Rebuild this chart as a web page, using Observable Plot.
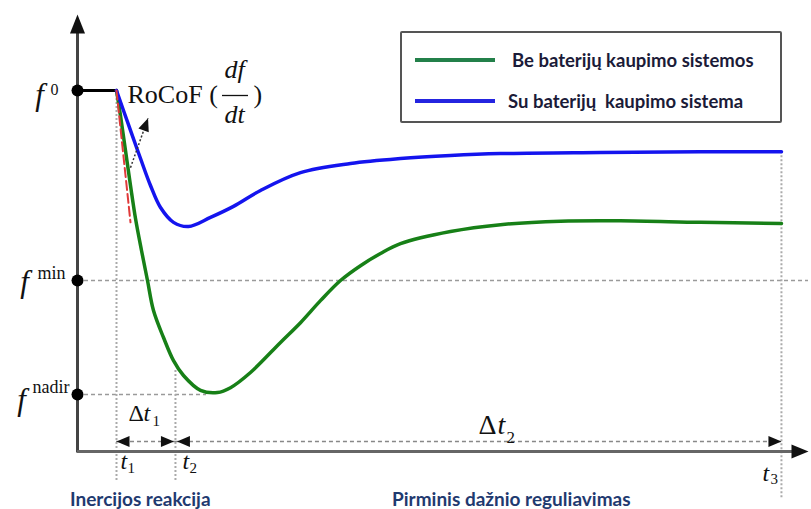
<!DOCTYPE html>
<html>
<head>
<meta charset="utf-8">
<script src="https://cdn.jsdelivr.net/npm/d3@7"></script>
<script src="https://cdn.jsdelivr.net/npm/@observablehq/plot@0.6"></script>
<style>
  body { margin: 0; background: #fff; }
  #wrap { position: relative; width: 811px; height: 509px; overflow: hidden; background: #fff; }
  #wrap svg { position: absolute; left: 0; top: 0; }
  .legend { position: absolute; left: 400px; top: 31px; width: 378px; height: 88px;
            border: 2px solid #555; border-radius: 2px; background: #fff;
            font-family: Lato, "Open Sans", sans-serif; font-weight: 700; font-size: 18.5px; color: #1b1b38; }
  .row { position: absolute; left: 13px; height: 22px; display: flex; align-items: center; white-space: pre; }
  .sw { width: 80px; height: 4px; }
  .cap { position: absolute; top: 489px; font-family: Lato, "Open Sans", sans-serif; font-weight: 700;
         font-size: 19px; line-height: 19px; color: #1f3a70; white-space: pre; }
</style>
</head>
<body>
<div id="wrap"></div>
<script>
// ---------- data ----------
const levelNames  = ["0", "min", "nadir"];
const levelValues = [50.0, 49.5, 49.2];          // f0, fmin, fnadir (Hz)

const timeNames  = ["1", "2", "3"];
const timeValues = [1.067, 2.68, 19.26];          // t1, t2, t3 (s)
const guideTops  = [50.0, 49.263, 49.839];        // where the dotted time guides start

// without battery storage (green)
const noBessT = [1.067, 1.176, 1.313, 1.450, 1.587, 1.751, 1.915, 2.079, 2.353, 2.627, 2.900, 3.365, 3.830,
                 4.186, 4.733, 5.554, 6.101, 6.648, 7.196, 7.743, 8.290, 8.837, 10.205, 11.573, 13.215,
                 14.856, 17.045, 19.261];
const noBessF = [50.000, 49.934, 49.842, 49.750, 49.663, 49.579, 49.500, 49.421, 49.350, 49.289, 49.250,
                 49.211, 49.205, 49.218, 49.258, 49.337, 49.389, 49.447, 49.500, 49.539, 49.571, 49.597,
                 49.629, 49.647, 49.656, 49.657, 49.653, 49.650];

// with battery storage (blue)
const bessT = [1.067, 1.450, 1.724, 1.997, 2.271, 2.627, 3.037, 3.639, 4.268, 5.007, 6.101, 7.469, 8.837,
               10.205, 11.573, 14.309, 17.045, 19.261];
const bessF = [50.000, 49.895, 49.821, 49.750, 49.692, 49.653, 49.642, 49.666, 49.695, 49.737, 49.784,
               49.808, 49.821, 49.829, 49.834, 49.837, 49.839, 49.839];

// pre-disturbance frequency
const preT = [0, 1.067];
const preF = [50.0, 50.0];

// RoCoF tangent (red dashed) and the pointer arrow
const rocofT = [1.067, 1.45];
const rocofF = [50.0, 49.653];
const rocofArrowT = [1.45, 1.93];
const rocofArrowF = [49.797, 49.927];

const seriesNames = ["Be baterijų kaupimo sistemos", "Su baterijų  kaupimo sistema"];
const phaseNames  = ["Inercijos reakcija", "Pirminis dažnio reguliavimas"];

// ---------- derived tables ----------
const levels = levelNames.map((name, i) => ({name, f: levelValues[i]}));
const times  = timeNames.map((name, i) => ({name, t: timeValues[i], top: guideTops[i]}));
const green  = noBessT.map((t, i) => ({t, f: noBessF[i]}));
const blue   = bessT.map((t, i) => ({t, f: bessF[i]}));
const pre    = preT.map((t, i) => ({t, f: preF[i]}));
const rocof  = rocofT.map((t, i) => ({t, f: rocofF[i]}));
const nadirIdx = noBessF.indexOf(Math.min(...noBessF));

const T0 = 0, TMAX = 20, FAXIS = 49.05, FTOP = 50.2, FDELTA = 49.076;
const serif = "'Liberation Serif', 'Times New Roman', serif";
const ink = "#111";

const xOpts = {domain: [T0, TMAX], range: [77, 808]};
const xs = Plot.scale({x: xOpts});
const px = (t, off) => xs.invert(xs.apply(t) + off);   // data position offset by pixels (for the fraction bar)

const tri = {draw(ctx, l, r) { ctx.moveTo(-r, 0); ctx.lineTo(0, -l); ctx.lineTo(r, 0); ctx.closePath(); }};
function head(x, y, rotate, opts = {}) {
  return Plot.vector([0], {x: () => x, y: () => y, rotate, length: 12, r: 5, anchor: "end",
    shape: tri, fill: "#111", stroke: "none", ...opts});
}
function txt(data, o) {
  return Plot.text(data, {lineAnchor: "bottom", textAnchor: "start", fontFamily: serif, fill: ink, ...o});
}

// f-level label offsets
const fDx = [-38, -53, -56], fDy = [14, 11, 15];
const supDx = [-27, -40, -45], supDy = [4, -2, -2], supSize = [16, 18, 18];
// t label offsets
const tDx = [4, 7, -19], tDy = [17, 17, 29], subDx = [11, 14, -11], subDy = [21, 21, 32];

const marks = [
  // dashed horizontal guides
  Plot.ruleY([levels[1]], {y: "f", x1: T0, x2: TMAX, stroke: "#9a9a9a", strokeWidth: 1.5, strokeDasharray: "4,3"}),
  Plot.ruleY([levels[2]], {y: "f", x1: T0, x2: noBessT[nadirIdx] - 0.3, stroke: "#9a9a9a", strokeWidth: 1.5, strokeDasharray: "4,3"}),
  // dotted vertical time guides
  Plot.ruleX(times, {x: "t", y1: "top", y2: (d, i) => i === 2 ? 48.926 : 48.972,
    stroke: "#aaaaaa", strokeWidth: 2, strokeDasharray: "2,2"}),
  // axes
  Plot.ruleX([T0], {y1: FAXIS - 0.004, y2: FTOP - 0.04, stroke: "#444", strokeWidth: 3}),
  Plot.ruleY([FAXIS], {x1: T0, x2: TMAX - 0.3, stroke: "#666", strokeWidth: 3}),
  head(T0, FTOP, 0, {length: 19, r: 7.5}),
  head(TMAX, FAXIS, 90, {length: 17, r: 7}),
  // delta-t dashed spans
  Plot.ruleY([FDELTA], {x1: timeValues[0], x2: timeValues[1], stroke: "#888", strokeWidth: 1.5, strokeDasharray: "4,3"}),
  Plot.ruleY([FDELTA], {x1: timeValues[1], x2: timeValues[2], stroke: "#888", strokeWidth: 1.5, strokeDasharray: "4,3"}),
  head(timeValues[0], FDELTA, -90, {length: 13, r: 5.5}),
  head(timeValues[1], FDELTA, 90, {length: 13, r: 5.5, dx: -1.5}),
  head(timeValues[1], FDELTA, -90, {length: 13, r: 5.5, dx: 1.5}),
  head(timeValues[2], FDELTA, 90, {length: 13, r: 5.5}),
  // curves
  Plot.line(pre, {x: "t", y: "f", stroke: "#000", strokeWidth: 3}),
  Plot.line(green, {x: "t", y: "f", stroke: "#178017", strokeWidth: 3.5, curve: "catmull-rom"}),
  Plot.line(blue, {x: "t", y: "f", stroke: "#1414ee", strokeWidth: 3.5, curve: "catmull-rom"}),
  Plot.line(rocof, {x: "t", y: "f", stroke: "#e03a3a", strokeWidth: 2, strokeDasharray: "9,4"}),
  // RoCoF pointer
  Plot.link([0], {x1: () => rocofArrowT[0], y1: () => rocofArrowF[0], x2: () => rocofArrowT[1], y2: () => rocofArrowF[1],
    stroke: "#333", strokeWidth: 1.5, strokeDasharray: "2,2"}),
  head(rocofArrowT[1], rocofArrowF[1], 20, {length: 13, r: 5.5}),
  // level dots
  Plot.dot(levels, {x: T0, y: "f", r: 6, fill: "#000", stroke: "none"}),
  // f labels
  ...levels.flatMap((d, i) => [
    txt([d], {x: T0, y: "f", text: () => "f", fontStyle: "italic", fontSize: 31, textAnchor: "middle", dx: fDx[i], dy: fDy[i]}),
    txt([d], {x: T0, y: "f", text: "name", fontSize: supSize[i], dx: supDx[i], dy: supDy[i]})
  ]),
  // RoCoF label  (df / dt fraction)
  txt([levels[0]], {x: timeValues[0], y: "f", text: () => "RoCoF (", fontSize: 26, dx: 11, dy: 12}),
  txt([levels[0]], {x: timeValues[0], y: "f", text: () => "df", fontSize: 26, fontStyle: "italic", dx: 108, dy: -13}),
  Plot.ruleY([levels[0]], {y: "f", x1: px(timeValues[0], 106), x2: px(timeValues[0], 132), dy: 5, stroke: ink, strokeWidth: 1.3}),
  txt([levels[0]], {x: timeValues[0], y: "f", text: () => "dt", fontSize: 26, fontStyle: "italic", dx: 108, dy: 32}),
  txt([levels[0]], {x: timeValues[0], y: "f", text: () => ")", fontSize: 26, dx: 137, dy: 12}),
  // delta labels
  txt([0], {x: () => (timeValues[0] + timeValues[1]) / 2, y: () => FDELTA, text: () => "Δ", fontSize: 24, dx: -17.5, dy: -21}),
  txt([0], {x: () => (timeValues[0] + timeValues[1]) / 2, y: () => FDELTA, text: () => "t", fontSize: 24, fontStyle: "italic", dx: -2.5, dy: -21}),
  txt([0], {x: () => (timeValues[0] + timeValues[1]) / 2, y: () => FDELTA, text: () => timeNames[0], fontSize: 15, dx: 6.5, dy: -16}),
  txt([0], {x: () => (timeValues[1] + timeValues[2]) / 2, y: () => FDELTA, text: () => "Δ", fontSize: 28, dx: 0, dy: -8}),
  txt([0], {x: () => (timeValues[1] + timeValues[2]) / 2, y: () => FDELTA, text: () => "t", fontSize: 28, fontStyle: "italic", dx: 19, dy: -8}),
  txt([0], {x: () => (timeValues[1] + timeValues[2]) / 2, y: () => FDELTA, text: () => timeNames[1], fontSize: 17, dx: 28, dy: 1}),
  // t labels
  ...times.flatMap((d, i) => [
    txt([d], {x: "t", y: () => FAXIS, text: () => "t", fontStyle: "italic", fontSize: 24, dx: tDx[i], dy: tDy[i]}),
    txt([d], {x: "t", y: () => FAXIS, text: "name", fontSize: 15, dx: subDx[i], dy: subDy[i]})
  ])
];

const chart = Plot.plot({
  width: 811,
  height: 509,
  x: {...xOpts, axis: null},
  y: {domain: [FAXIS, FTOP], range: [451, 14], axis: null},
  style: {background: "white", overflow: "visible"},
  marks
});

const wrap = document.getElementById("wrap");
wrap.appendChild(chart);

// legend
const legend = document.createElement("div");
legend.className = "legend";
const swColors = ["#23804a", "#2424e0"];
const rowTops = [16, 57];
const gaps = [17, 13];
seriesNames.forEach((name, i) => {
  const row = document.createElement("div");
  row.className = "row";
  row.style.top = rowTops[i] + "px";
  const sw = document.createElement("div");
  sw.className = "sw";
  sw.style.background = swColors[i];
  sw.style.marginRight = gaps[i] + "px";
  const label = document.createElement("span");
  label.textContent = name;
  row.appendChild(sw);
  row.appendChild(label);
  legend.appendChild(row);
});
wrap.appendChild(legend);

// phase captions
const capLefts = [70, 392];
phaseNames.forEach((name, i) => {
  const c = document.createElement("div");
  c.className = "cap";
  c.style.left = capLefts[i] + "px";
  c.textContent = name;
  wrap.appendChild(c);
});
</script>
</body>
</html>
